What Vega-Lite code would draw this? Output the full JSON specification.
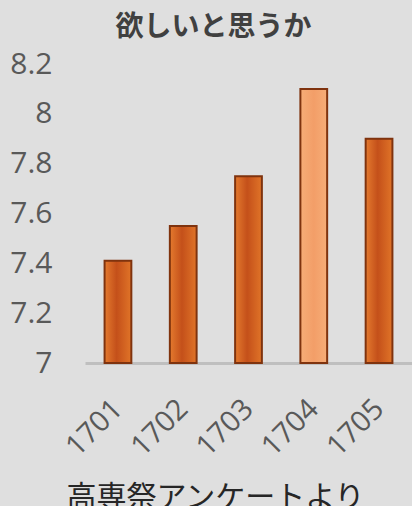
{
  "$schema": "https://vega.github.io/schema/vega-lite/v6.json",
  "autosize": "none",
  "width": 327,
  "height": 299,
  "padding": {"left": 85, "top": 64, "right": 0, "bottom": 143},
  "background": "#dfdfdf",
  "title": {
    "text": "欲しいと思うか",
    "font": "Noto Sans CJK JP",
    "fontSize": 28,
    "fontWeight": "bold",
    "color": "#404040",
    "anchor": "middle",
    "dx": -35,
    "offset": 7
  },
  "data": {
    "values": [
      {"group": "1701", "score": 7.41},
      {"group": "1702", "score": 7.55},
      {"group": "1703", "score": 7.75},
      {"group": "1704", "score": 8.1},
      {"group": "1705", "score": 7.9}
    ]
  },
  "mark": {"type": "bar", "stroke": "#7f330e", "strokeWidth": 2},
  "encoding": {
    "x": {
      "field": "group",
      "type": "nominal",
      "sort": null,
      "scale": {"paddingInner": 0.59, "paddingOuter": 0.3},
      "axis": {
        "title": "高専祭アンケートより",
        "titleFont": "Noto Sans CJK JP",
        "titleFontSize": 30,
        "titleFontWeight": "normal",
        "titleColor": "#262626",
        "titleX": 130,
        "titleY": 143,
        "titleBaseline": "alphabetic",
        "labelAngle": -45,
        "labelAlign": "right",
        "labelBaseline": "middle",
        "labelFont": "Open Sans",
        "labelFontSize": 29,
        "labelColor": "#595959",
        "labelPadding": 41,
        "ticks": false,
        "domainColor": "#bfbfbf",
        "domainWidth": 3
      }
    },
    "y": {
      "field": "score",
      "type": "quantitative",
      "scale": {"domain": [7, 8.2], "zero": false, "nice": false, "clamp": true},
      "axis": {
        "title": null,
        "values": [7, 7.2, 7.4, 7.6, 7.8, 8, 8.2],
        "format": "~g",
        "labelFont": "Open Sans",
        "labelFontSize": 30,
        "labelColor": "#595959",
        "labelPadding": 33,
        "ticks": false,
        "domain": false,
        "grid": false
      }
    },
    "y2": {"datum": 7},
    "fill": {
      "condition": {
        "test": "datum.group == '1704'",
        "value": {
          "gradient": "linear",
          "x1": 0, "y1": 0, "x2": 1, "y2": 0,
          "stops": [
            {"offset": 0, "color": "#f6ad77"},
            {"offset": 0.5, "color": "#f39e68"},
            {"offset": 1, "color": "#f6ad77"}
          ]
        }
      },
      "value": {
        "gradient": "linear",
        "x1": 0, "y1": 0, "x2": 1, "y2": 0,
        "stops": [
          {"offset": 0, "color": "#e47a2e"},
          {"offset": 0.45, "color": "#c4501a"},
          {"offset": 1, "color": "#e07428"}
        ]
      }
    }
  },
  "config": {"view": {"stroke": null}}
}
